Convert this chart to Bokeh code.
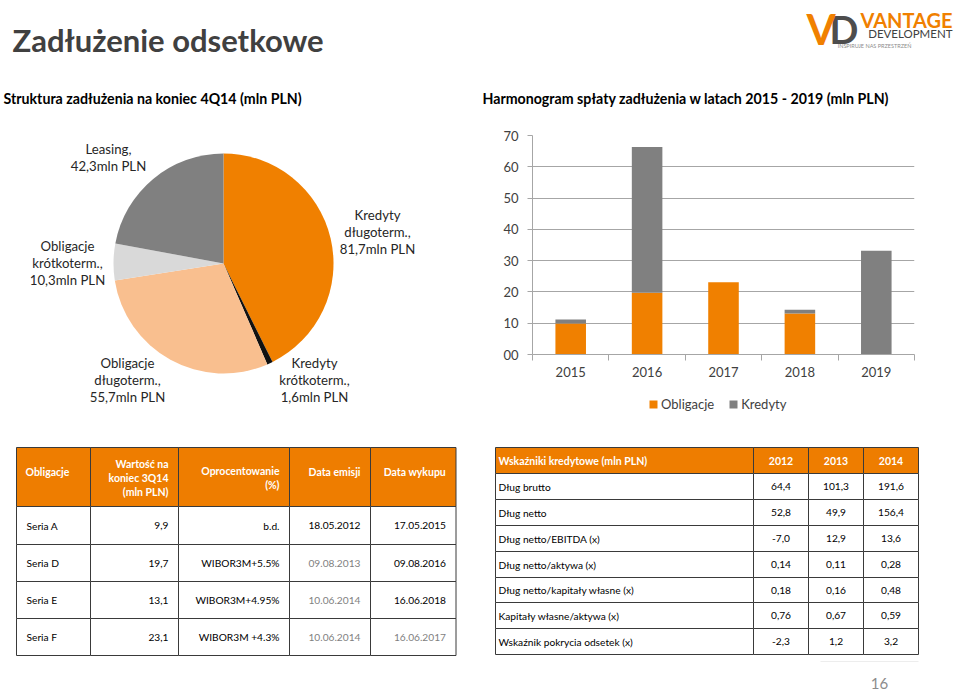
import numpy as np
from bokeh.plotting import figure
from bokeh.layouts import column, row
from bokeh.models import (Range1d, FixedTicker, NumeralTickFormatter, Legend,
                          LegendItem, ColumnDataSource)
from bokeh.core.properties import value
from bokeh.embed import file_html
from bokeh.resources import INLINE

# ------------------------------------------------------------------ data
TITLE = "Zadłużenie odsetkowe"
PIE_TITLE = "Struktura zadłużenia na koniec 4Q14 (mln PLN)"
BAR_TITLE = "Harmonogram spłaty zadłużenia w latach 2015 - 2019 (mln PLN)"

pie_names = [["Kredyty", "długoterm.,"], ["Kredyty", "krótkoterm.,"],
             ["Obligacje", "długoterm.,"], ["Obligacje", "krótkoterm.,"],
             ["Leasing,"]]
pie_values = [81.7, 1.6, 55.7, 10.3, 42.3]

years = ["2015", "2016", "2017", "2018", "2019"]
obligacje = [9.9, 19.7, 23.1, 13.1, 0.0]
kredyty = [1.3, 46.6, 0.0, 1.2, 33.2]
bar_series = ["Obligacje", "Kredyty"]
y_ticks = [0, 10, 20, 30, 40, 50, 60, 70]

bonds_header = [["Obligacje"], ["Wartość na", "koniec 3Q14", "(mln PLN)"],
                ["Oprocentowanie", "(%)"], ["Data emisji"], ["Data wykupu"]]
bonds_series = ["Seria A", "Seria D", "Seria E", "Seria F"]
bonds_value = [9.9, 19.7, 13.1, 23.1]
bonds_rate = ["b.d.", "WIBOR3M+5.5%", "WIBOR3M+4.95%", "WIBOR3M +4.3%"]
bonds_issue = ["18.05.2012", "09.08.2013", "10.06.2014", "10.06.2014"]
bonds_maturity = ["17.05.2015", "09.08.2016", "16.06.2018", "16.06.2017"]

ratio_title = "Wskaźniki kredytowe (mln PLN)"
ratio_years = ["2012", "2013", "2014"]
ratio_names = ["Dług brutto", "Dług netto", "Dług netto/EBITDA (x)",
               "Dług netto/aktywa (x)", "Dług netto/kapitały własne (x)",
               "Kapitały własne/aktywa (x)", "Wskaźnik pokrycia odsetek (x)"]
ratio_2012 = [64.4, 52.8, -7.0, 0.14, 0.18, 0.76, -2.3]
ratio_2013 = [101.3, 49.9, 12.9, 0.11, 0.16, 0.67, 1.2]
ratio_2014 = [191.6, 156.4, 13.6, 0.28, 0.48, 0.59, 3.2]
page_number = "16"

# ------------------------------------------------------------------ style / layout
FONT = value("Lato")
ORANGE = "#F08000"
HEAD_ORANGE = "#EE7D00"
GRAY = "#808080"
TXT = "#404040"
pie_colors = ["#F08000", "#111111", "#F9BF8F", "#D9D9D9", "#808080"]
PIE_CX, PIE_CY, PIE_R = 223, 263, 110
PIE_LABEL_POS = [(377, 231), (314, 379), (127, 379), (67, 262), (108, 156.5)]
PIE_LINE = 17
ratio_decimals = [1, 1, 1, 2, 2, 2, 1]
bond_issue_colors = ["#000000", "#7F7F7F", "#7F7F7F", "#7F7F7F"]
bond_mat_colors = ["#000000", "#000000", "#000000", "#7F7F7F"]

T1_COLS = [16, 90, 178, 289, 370, 455.5]
T1_ROWS = [447, 506, 544, 581, 618, 655]
T2_COLS = [495, 753, 808, 863, 918]
T2_ROWS = [447, 473, 499, 525, 551, 577, 602, 628, 654]


def fmt(v, d=1):
    return f"{v:.{d}f}".replace(".", ",")


def blank(width, height, xr, yr):
    p = figure(width=width, height=height, x_range=xr, y_range=yr,
               output_backend="svg", toolbar_location=None,
               x_axis_type=None, y_axis_type=None, min_border=0)
    p.outline_line_color = None
    p.background_fill_color = "white"
    p.border_fill_color = "white"
    return p


def txt(p, x, y, t, size, color=TXT, bold=False, align="left", baseline="middle"):
    p.text(x=x, y=y, text=t, text_font=FONT, text_font_size=value(size),
           text_font_style="bold" if bold else "normal", text_color=color,
           text_align=align, text_baseline=baseline)


# ------------------------------------------------------------------ header
head = blank(960, 120, Range1d(0, 960), Range1d(120, 0))
txt(head, [12], [39.5], [TITLE], "31px", color="#404040", bold=True)
txt(head, [3], [97.5], [PIE_TITLE], "14.2px", color="#000000", bold=True)
txt(head, [482], [97.5], [BAR_TITLE], "14.2px", color="#000000", bold=True)
# logo
txt(head, [829], [28], ["D"], "38px", color="#4D4D4D", bold=True)
txt(head, [806], [28], ["V"], "42px", color=ORANGE, bold=True)
txt(head, [952], [19.5], ["VANTAGE"], "20px", color=ORANGE, bold=True, align="right")
txt(head, [952], [33], ["DEVELOPMENT"], "11.5px", color="#404040", align="right")
txt(head, [874], [45], ["INSPIRUJE NAS PRZESTRZEŃ"], "5.5px", color="#8C8C8C", align="center")

# ------------------------------------------------------------------ pie
pie = blank(480, 300, Range1d(0, 480), Range1d(-420, -120))
vals = np.array(pie_values)
frac = vals / vals.sum()
cum = np.concatenate([[0.0], np.cumsum(frac)])
src = ColumnDataSource(dict(
    x=[PIE_CX] * len(vals), y=[-PIE_CY] * len(vals),
    start=np.pi / 2 - cum[:-1] * 2 * np.pi,
    end=np.pi / 2 - cum[1:] * 2 * np.pi,
    color=pie_colors))
pie.wedge(x="x", y="y", radius=PIE_R, start_angle="start", end_angle="end",
          direction="clock", fill_color="color", line_color=None, source=src)
lx, ly, lt = [], [], []
for names, v, (cx, cy) in zip(pie_names, pie_values, PIE_LABEL_POS):
    lines = names + [fmt(v) + "mln PLN"]
    n = len(lines)
    for i, s in enumerate(lines):
        lx.append(cx)
        ly.append(-(cy + (i - (n - 1) / 2) * PIE_LINE))
        lt.append(s)
txt(pie, lx, ly, lt, "13.2px", color="#262626", align="center")

# ------------------------------------------------------------------ bars
bar = figure(width=480, height=264, x_range=Range1d(0, 5), y_range=Range1d(0, 70),
             output_backend="svg", toolbar_location=None,
             min_border_left=52, min_border_right=46, min_border_top=15,
             min_border_bottom=30)
bar.outline_line_color = None
xs = [i + 0.5 for i in range(len(years))]
bsrc = ColumnDataSource(dict(x=xs, Obligacje=obligacje, Kredyty=kredyty))
rs = bar.vbar_stack(bar_series, x="x", width=0.4, fill_color=[ORANGE, GRAY],
                    line_color=None, source=bsrc)
bar.xgrid.visible = False
bar.ygrid.grid_line_color = "#A6A6A6"
bar.yaxis.ticker = FixedTicker(ticks=y_ticks)
bar.yaxis.formatter = NumeralTickFormatter(format="00")
bar.xaxis.ticker = FixedTicker(ticks=xs, minor_ticks=list(range(len(years) + 1)))
bar.xaxis.major_label_overrides = {x: y for x, y in zip(xs, years)}
for ax in (bar.xaxis[0], bar.yaxis[0]):
    ax.axis_line_color = "#A6A6A6"
    ax.major_tick_line_color = "#A6A6A6"
    ax.minor_tick_line_color = "#A6A6A6"
    ax.major_label_text_font = "Lato"
    ax.major_label_text_font_size = "13px"
    ax.major_label_text_color = TXT
    ax.major_tick_in = 0
    ax.minor_tick_in = 0
bar.yaxis.major_tick_out = 5
bar.yaxis.minor_tick_out = 0
bar.yaxis.major_label_standoff = 9
bar.xaxis.major_tick_out = 0
bar.xaxis.minor_tick_out = 6
bar.xaxis.major_label_standoff = 6

# legend in its own strip below the bar chart
leg = blank(480, 36, Range1d(0, 1), Range1d(0, 1))
leg_colors = [ORANGE, GRAY]
leg_rs = [leg.vbar(x=[-10], top=[-10], bottom=[-11], width=0.1, fill_color=c,
                   line_color=None) for c in leg_colors]
legend = Legend(items=[LegendItem(label=s, renderers=[r]) for s, r in zip(bar_series, leg_rs)],
                orientation="horizontal", location=(116, 8),
                label_text_font="Lato", label_text_font_size="13px",
                label_text_color=TXT, glyph_width=10, glyph_height=10,
                spacing=14, padding=0, margin=0, label_standoff=3,
                border_line_color=None, background_fill_alpha=0)
leg.add_layout(legend)

# ------------------------------------------------------------------ tables
tab = blank(960, 272, Range1d(0, 960), Range1d(692, 420))


def grid(p, cols, rows):
    L, R, T, B, C = [], [], [], [], []
    for r in range(len(rows) - 1):
        for c in range(len(cols) - 1):
            L.append(cols[c]); R.append(cols[c + 1])
            T.append(rows[r]); B.append(rows[r + 1])
            C.append(HEAD_ORANGE if r == 0 else "white")
    p.quad(left=L, right=R, top=T, bottom=B, fill_color=C,
           line_color="#3A3A3A", line_width=1)


grid(tab, T1_COLS, T1_ROWS)
grid(tab, T2_COLS, T2_ROWS)

FS = "10.2px"
FSH = "10.5px"
# table 1 header
hx, hy, ht, ha = [], [], [], []
hc = (T1_ROWS[0] + T1_ROWS[1]) / 2
for c, lines in enumerate(bonds_header):
    n = len(lines)
    for i, s in enumerate(lines):
        if c == 0:
            hx.append(T1_COLS[0] + 9); ha.append("left")
        else:
            hx.append(T1_COLS[c + 1] - 10); ha.append("right")
        base = hc - 5 if n == 1 else hc + 1
        hy.append(base + (i - (n - 1) / 2) * 14)
        ht.append(s)
tab.text(x=hx, y=hy, text=ht, text_align=ha, text_baseline="middle",
         text_font=FONT, text_font_size=value(FSH), text_font_style="bold",
         text_color="white")
# table 1 body
bx, by, bt, ba, bc = [], [], [], [], []
for r in range(len(bonds_series)):
    cy = (T1_ROWS[r + 1] + T1_ROWS[r + 2]) / 2
    cells = [bonds_series[r], fmt(bonds_value[r]), bonds_rate[r],
             bonds_issue[r], bonds_maturity[r]]
    colors = ["#000000", "#000000", "#000000", bond_issue_colors[r], bond_mat_colors[r]]
    for c, (s, col) in enumerate(zip(cells, colors)):
        if c == 0:
            bx.append(T1_COLS[0] + 10); ba.append("left")
        else:
            bx.append(T1_COLS[c + 1] - 10); ba.append("right")
        by.append(cy); bt.append(s); bc.append(col)
tab.text(x=bx, y=by, text=bt, text_align=ba, text_baseline="middle",
         text_font=FONT, text_font_size=value(FS), text_color=bc)

# table 2 header
h2x = [T2_COLS[0] + 3] + [(T2_COLS[i + 1] + T2_COLS[i + 2]) / 2 for i in range(3)]
h2a = ["left", "center", "center", "center"]
h2y = [(T2_ROWS[0] + T2_ROWS[1]) / 2] * 4
tab.text(x=h2x, y=h2y, text=[ratio_title] + ratio_years, text_align=h2a,
         text_baseline="middle", text_font=FONT, text_font_size=value(FSH),
         text_font_style="bold", text_color="white")
# table 2 body
rx, ry, rt, ra = [], [], [], []
for r, name in enumerate(ratio_names):
    cy = (T2_ROWS[r + 1] + T2_ROWS[r + 2]) / 2
    vals_r = [ratio_2012[r], ratio_2013[r], ratio_2014[r]]
    rx.append(T2_COLS[0] + 3); ry.append(cy); rt.append(name); ra.append("left")
    for c, v in enumerate(vals_r):
        rx.append((T2_COLS[c + 1] + T2_COLS[c + 2]) / 2); ry.append(cy)
        rt.append(fmt(v, ratio_decimals[r])); ra.append("center")
tab.text(x=rx, y=ry, text=rt, text_align=ra, text_baseline="middle",
         text_font=FONT, text_font_size=value(FS), text_color="#000000")

# page number
tab.segment(x0=[820], y0=[661], x1=[918], y1=[661], line_color="#EDEDED", line_width=1)
txt(tab, [879], [683], [page_number], "15px", color="#8C8C8C", align="center")

layout = column(head, row(pie, column(bar, leg)), tab)
open("out.html", "w").write(file_html(layout, INLINE))
